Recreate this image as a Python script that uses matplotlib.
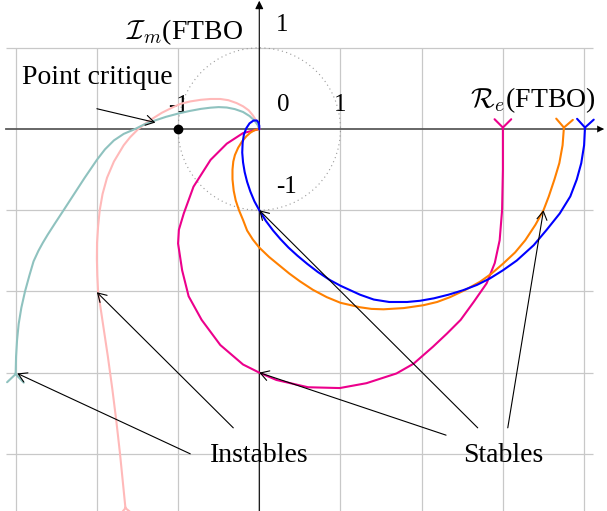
import matplotlib.pyplot as plt
from matplotlib.patches import Circle

plt.rcParams['font.family'] = ['Liberation Serif', 'DejaVu Serif']
plt.rcParams['mathtext.fontset'] = 'cm'

# Nyquist curves, (Re, Im), from low to high frequency
magenta_re = [3.0, 3.0, 2.99, 2.96, 2.90, 2.80, 2.64, 2.48, 2.31, 2.14, 1.90, 1.69, 1.32, 0.99,
              0.6, 0.21, 0.0, -0.2, -0.48, -0.71, -0.87, -0.95, -1.0, -0.99, -0.93, -0.81,
              -0.6, -0.4, -0.2, 0.0]
magenta_im = [0.0, -0.5, -1.0, -1.37, -1.65, -1.90, -2.13, -2.35, -2.52, -2.68, -2.89, -3.01,
              -3.13, -3.19, -3.18, -3.09, -3.0, -2.9, -2.66, -2.35, -2.06, -1.74, -1.41, -1.24,
              -1.04, -0.71, -0.38, -0.18, -0.05, 0.0]

orange_re = [3.75, 3.735, 3.695, 3.635, 3.565, 3.50, 3.40, 3.275, 3.15, 3.0, 2.86, 2.72, 2.54,
             2.35, 2.19, 2.02, 1.78, 1.53, 1.38, 1.24, 1.0, 0.83, 0.66, 0.5, 0.37, 0.26, 0.12,
             0.0, -0.08, -0.15, -0.2, -0.25, -0.29, -0.315, -0.33, -0.33, -0.32, -0.3, -0.26,
             -0.21, -0.16, -0.11, -0.06, 0.0]
orange_im = [0.0, -0.2, -0.42, -0.62, -0.83, -1.0, -1.18, -1.37, -1.52, -1.66, -1.78, -1.88,
             -1.98, -2.07, -2.13, -2.17, -2.205, -2.22, -2.215, -2.195, -2.14, -2.07, -1.98,
             -1.875, -1.78, -1.69, -1.575, -1.46, -1.36, -1.25, -1.12, -1.0, -0.88, -0.76,
             -0.62, -0.5, -0.4, -0.32, -0.23, -0.15, -0.09, -0.045, -0.015, 0.0]

blue_re = [4.01, 4.0, 3.965, 3.91, 3.83, 3.70, 3.54, 3.38, 3.17, 3.0, 2.84, 2.68, 2.51, 2.33,
           2.15, 1.98, 1.82, 1.6, 1.41, 1.24, 1.0, 0.87, 0.72, 0.59, 0.47, 0.36, 0.26, 0.17,
           0.08, 0.0, -0.06, -0.11, -0.15, -0.18, -0.2, -0.21, -0.205, -0.19, -0.16, -0.12,
           -0.07, -0.03, -0.01, 0.0, 0.0]
blue_im = [0.0, -0.2, -0.42, -0.62, -0.83, -1.04, -1.24, -1.43, -1.62, -1.74, -1.84, -1.92,
           -1.985, -2.04, -2.085, -2.115, -2.13, -2.13, -2.1, -2.04, -1.93, -1.86, -1.76, -1.66,
           -1.56, -1.46, -1.355, -1.25, -1.13, -1.0, -0.89, -0.77, -0.65, -0.53, -0.41, -0.29,
           -0.17, -0.07, 0.01, 0.07, 0.105, 0.105, 0.08, 0.04, 0.0]

teal_re = [-3.0, -2.995, -2.983, -2.963, -2.93, -2.885, -2.83, -2.78, -2.72, -2.665, -2.605,
           -2.515, -2.41, -2.28, -2.15, -2.0, -1.9, -1.79, -1.67, -1.53, -1.42, -1.30, -1.15,
           -1.0, -0.86, -0.72, -0.6, -0.5, -0.4, -0.3, -0.2, -0.12, -0.06, -0.02, 0.0]
teal_im = [-3.0, -2.8, -2.6, -2.4, -2.2, -2.0, -1.8, -1.63, -1.5, -1.4, -1.3, -1.16, -1.0, -0.8,
           -0.6, -0.38, -0.25, -0.14, -0.06, 0.0, 0.055, 0.1, 0.15, 0.19, 0.222, 0.248, 0.263,
           0.27, 0.265, 0.245, 0.21, 0.16, 0.105, 0.05, 0.0]

pink_re = [-1.65, -1.68, -1.715, -1.76, -1.81, -1.865, -1.925, -1.985, -1.995, -2.0, -1.998,
           -1.985, -1.965, -1.93, -1.875, -1.79, -1.67, -1.59, -1.49, -1.36, -1.2, -1.06, -0.97,
           -0.85, -0.72, -0.6, -0.48, -0.38, -0.28, -0.2, -0.13, -0.08, -0.035, -0.01, 0.0]
pink_im = [-4.65, -4.35, -4.0, -3.6, -3.2, -2.8, -2.4, -2.0, -1.8, -1.6, -1.4, -1.2, -1.0, -0.8,
           -0.6, -0.4, -0.2, -0.1, 0.0, 0.1, 0.2, 0.27, 0.31, 0.34, 0.36, 0.37, 0.37, 0.355,
           0.32, 0.28, 0.23, 0.17, 0.1, 0.04, 0.0]

curves = [
    (pink_re, pink_im, '#ffb9b9'),
    (teal_re, teal_im, '#8fc2bf'),
    (magenta_re, magenta_im, '#ec008c'),
    (orange_re, orange_im, '#ff8000'),
    (blue_re, blue_im, '#0000ff'),
]

grid_x = [-3, -2, -1, 0, 1, 2, 3, 4]
grid_y = [1, -1, -2, -3, -4]

fig = plt.figure(figsize=(6.07, 5.11), dpi=100)
ax = fig.add_axes([0, 0, 1, 1])
ax.set_xlim(-3.193, 4.282)
ax.set_ylim(-4.704, 1.589)
ax.axis('off')

# grid
ax.vlines(grid_x, -4.71, 1.0, color='#c8c8c8', lw=0.9, zorder=0)
ax.hlines(grid_y, -3.12, 4.11, color='#c8c8c8', lw=0.9, zorder=0)

# unit circle
ax.add_patch(Circle((0, 0), 1, fill=False, ls=(0, (1, 3)), color='#999999', lw=0.8, zorder=1))

# axes
ax.plot([-3.12, 4.22], [0, 0], color='#5a5a5a', lw=1.3, zorder=2)
ax.annotate('', xy=(4.28, 0), xytext=(4.1, 0),
            arrowprops=dict(arrowstyle='-|>', color='black', lw=0.1, mutation_scale=12), zorder=2)
ax.annotate('', xy=(0, 1.58), xytext=(0, -4.71),
            arrowprops=dict(arrowstyle='-|>', color='black', lw=0.8, mutation_scale=12,
                            shrinkA=0, shrinkB=0), zorder=2)

# curves with start arrowheads
for re, im, c in curves:
    ax.plot(re, im, color=c, lw=1.5, zorder=3, solid_joinstyle='round')
    dx = re[1] - re[0]
    dy = im[1] - im[0]
    n = (dx ** 2 + dy ** 2) ** 0.5
    ax.annotate('', xy=(re[0], im[0]), xytext=(re[0] - 0.01 * dx / n, im[0] - 0.01 * dy / n),
                arrowprops=dict(arrowstyle='->,head_length=0.5,head_width=0.5', color=c, lw=1.5,
                                mutation_scale=12, shrinkA=0, shrinkB=0), zorder=3)

# critical point
ax.plot([-1], [0], 'o', color='black', ms=6, zorder=4)

fs = 20
fn = 18
ax.text(-1.0, 0.28, '-1', fontsize=fn, ha='center', va='center', zorder=2.5)
ax.text(0.29, 0.30, '0', fontsize=fn, ha='center', va='center')
ax.text(1.0, 0.30, '1', fontsize=fn, ha='center', va='center')
ax.text(0.28, 1.28, '1', fontsize=fn, ha='center', va='center')
ax.text(0.34, -0.71, '-1', fontsize=fn, ha='center', va='center')

ax.text(-0.2, 1.19, r'$\mathcal{I}_m$(FTBO', fontsize=fs, ha='right', va='center')
ax.text(3.37, 0.36, r'$\mathcal{R}_e$(FTBO)', fontsize=fs, ha='center', va='center')

ax.text(-2.0, 0.63, 'Point critique', fontsize=fs, ha='center', va='center')
ax.text(0.0, -4.02, 'Instables', fontsize=fs, ha='center', va='center')
ax.text(3.0, -4.02, 'Stables', fontsize=fs, ha='center', va='center')

arrows = [
    ((-2.0, 0.25), (-1.28, 0.08)),
    ((-0.85, -4.0), (-2.98, -3.01)),
    ((-0.32, -3.68), (-2.0, -2.01)),
    ((2.30, -3.77), (0.0, -3.0)),
    ((2.69, -3.68), (0.0, -1.0)),
    ((3.06, -3.68), (3.50, -1.0)),
]
for start, end in arrows:
    ax.annotate('', xy=end, xytext=start,
                arrowprops=dict(arrowstyle='->,head_length=0.5,head_width=0.3', color='black',
                                lw=0.8, mutation_scale=12, shrinkA=0, shrinkB=0), zorder=5)

fig.savefig('out.png', dpi=100)
